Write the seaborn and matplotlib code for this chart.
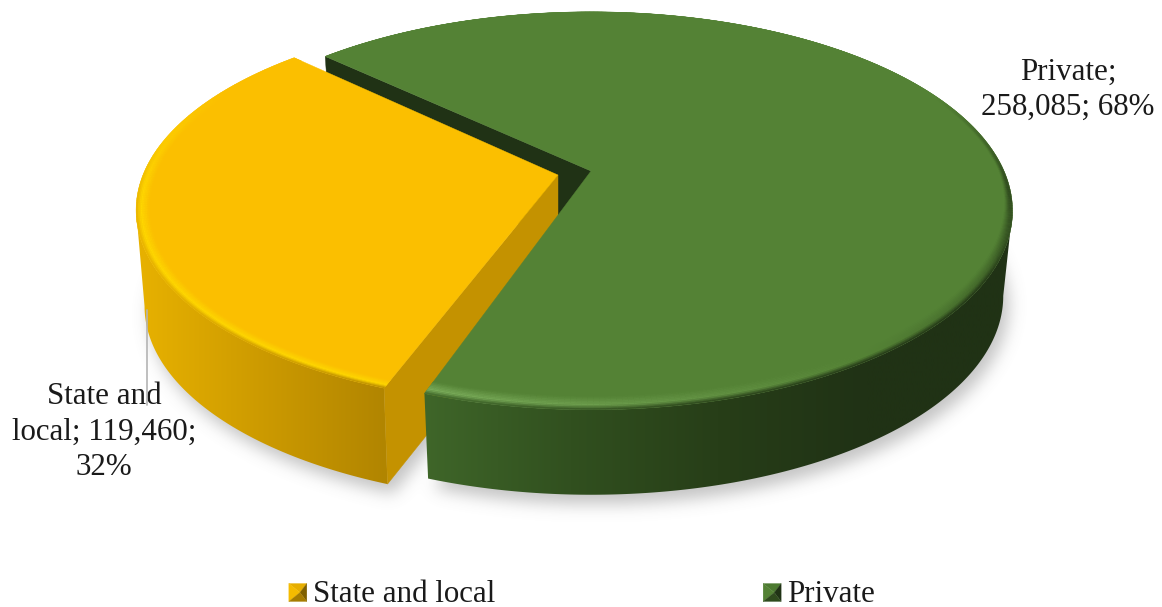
import numpy as np
import matplotlib
matplotlib.use("Agg")
import matplotlib.pyplot as plt
import seaborn as sns
from matplotlib.collections import PolyCollection
from matplotlib.colors import to_rgb
from matplotlib.legend_handler import HandlerBase
from matplotlib.patches import Polygon, Rectangle
from matplotlib.path import Path

# Employment by sector
categories = ["State and local", "Private"]
values = [119460, 258085]
top_colors = ["#FBBF00", "#548235"]
cut_colors = ["#C49200", "#203215"]
wall_ramps = [["#E8B200", "#CC9A00", "#B08400"],
              ["#3F6629", "#31501F", "#273E18", "#203215", "#203215"]]
rim_colors = ["#FFD800", "#7CAE5C"]

sns.set_theme(style="white")
plt.rcParams["font.family"] = ["Liberation Serif", "DejaVu Serif"]
FONT = 22.3
INK = "#1a1a1a"

W, H = 1162, 607
fig = plt.figure(figsize=(W / 100, H / 100), dpi=100)
ax = fig.add_axes([0, 0, 1, 1])

shares = np.array(values) / sum(values)
START = 137.0


class Slice:
    """One exploded pie slice, seen in perspective."""

    def __init__(self, apex, a, b, k, depth, shrink, t0, t1):
        self.apex, self.a, self.b, self.k = apex, a, b, k
        self.depth, self.shrink, self.t0, self.t1 = depth, shrink, t0, t1

    def top(self, theta, r=1.0):
        th = np.radians(theta)
        X, Y = r * np.cos(th), r * np.sin(th)
        w = 1 + self.k * Y
        return self.apex[0] + self.a * X / w, self.apex[1] - self.b * Y / w

    def bottom(self, theta, r=1.0):
        x, y = self.top(theta, r)
        return self.apex[0] + (x - self.apex[0]) * self.shrink, y + self.depth

    def side_angle(self):
        # Angle below the horizontal at which the rim is widest on screen
        return np.degrees(np.arcsin(self.k))


sweep0 = 360 * shares[0]
state = Slice((558, 175), 415, 189, 0.18, 96, 0.98, START - 1.3, START - 1.3 + sweep0)
private = Slice((591, 171), 413, 191, 0.20, 85, 0.978, START + sweep0, START + 360)


def blurred_shadow(paths, dx, dy, sigma, strength):
    """Soft grey drop shadow built from the outline of the lower rims."""
    gx, gy = np.meshgrid(np.arange(W), np.arange(H))
    pts = np.column_stack([gx.ravel(), gy.ravel()])
    mask = np.zeros(W * H, dtype=float)
    for p in paths:
        mask = np.maximum(mask, p.contains_points(pts - [dx, dy]).astype(float))
    mask = mask.reshape(H, W)
    half = int(3 * sigma)
    kern = np.exp(-0.5 * (np.arange(-half, half + 1) / sigma) ** 2)
    kern /= kern.sum()
    mask = np.apply_along_axis(lambda v: np.convolve(v, kern, "same"), 0, mask)
    mask = np.apply_along_axis(lambda v: np.convolve(v, kern, "same"), 1, mask)
    rgba = np.zeros((H, W, 4))
    rgba[..., :3] = 0.45
    rgba[..., 3] = mask * strength
    ax.imshow(rgba, extent=(0, W, H, 0), aspect="auto", zorder=0)


def sector_path(s):
    ang = np.linspace(s.t0, s.t1, 200)
    bx, by = s.bottom(ang)
    ax_, ay_ = s.bottom(np.array([s.t0]), 0.0)
    return Path(np.column_stack([np.r_[ax_, bx], np.r_[ay_, by]]))


def gradient_wall(s, ramp, x0, x1, t0, t1, z):
    """Outer wall of a slice with a left-to-right shade."""
    ang = np.linspace(t0, t1, 200)
    tx, ty = s.top(ang)
    bx, by = s.bottom(ang)
    outline = np.column_stack([np.r_[tx, bx[::-1]], np.r_[ty, by[::-1]]])
    patch = Polygon(outline, closed=True, transform=ax.transData, fc="none", ec="none")
    ax.add_patch(patch)
    grad = np.array(sns.blend_palette(ramp, 256))[None, :, :]
    img = ax.imshow(grad, extent=(x0, x1, H, 0), aspect="auto", zorder=z, interpolation="bilinear")
    img.set_clip_path(patch)


def cut_face(s, theta, color, z):
    ax0, ay0 = s.top(np.array([theta]), 0.0)
    tx, ty = s.top(np.array([theta]))
    bx, by = s.bottom(np.array([theta]))
    cx, cy = s.bottom(np.array([theta]), 0.0)
    ax.add_patch(Polygon([(ax0[0], ay0[0]), (tx[0], ty[0]), (bx[0], by[0]), (cx[0], cy[0])],
                         closed=True, fc=color, ec=color, lw=0.3, zorder=z))


def top_face(s, color, z):
    ang = np.linspace(s.t0, s.t1, 400)
    x, y = s.top(ang)
    ax.add_patch(Polygon(np.column_stack([np.r_[s.apex[0], x], np.r_[s.apex[1], y]]),
                         closed=True, fc=color, ec=color, lw=0.3, zorder=z))


def bevel(s, base, ramp, x0, x1, strength, band, z, steps=9):
    """Rounded rim: a band that lifts towards a highlight, then rolls into the wall."""
    angs = np.linspace(s.t0, s.t1, int((s.t1 - s.t0) * 1.5))
    base = np.array(to_rgb(base))
    pal = np.array(sns.blend_palette(ramp, 256))
    polys, cols = [], []
    for i in range(len(angs) - 1):
        a0, a1 = angs[i], angs[i + 1]
        mid = 0.5 * (a0 + a1)
        rs = np.linspace(1 - band(mid), 1.0, steps + 1)
        hl = strength(mid)
        xm, _ = s.top(np.array([mid]))
        idx = int(np.clip((xm[0] - x0) / (x1 - x0) * 255, 0, 255))
        edge = pal[idx]
        front = max(0.0, -np.sin(np.radians(mid) + 0.2))
        for j in range(steps):
            u = (j + 0.5) / steps
            if u < 0.65:
                c = base + (hl - base) * (u / 0.65)
            else:
                c = hl + (edge - hl) * ((u - 0.65) / 0.35) * min(1.0, front * 3)
            x00, y00 = s.top(np.array([a0, a1]), rs[j])
            x11, y11 = s.top(np.array([a1, a0]), rs[j + 1])
            polys.append(np.column_stack([np.r_[x00, x11], np.r_[y00, y11]]))
            cols.append(c)
    ax.add_collection(PolyCollection(polys, facecolors=cols, edgecolors=cols, linewidths=0.2, zorder=z))


def state_rim(theta):
    base, hi = np.array(to_rgb(top_colors[0])), np.array(to_rgb(rim_colors[0]))
    t = np.clip((theta - 150) / 35, 0, 1)
    return base + (hi - base) * t


def private_rim(theta):
    base = np.array(to_rgb(top_colors[1]))
    hi = np.array(to_rgb(rim_colors[1]))
    dark = np.array(to_rgb(cut_colors[1]))
    th = (theta - state.t1) % 360
    if th < 55:
        return hi + (base - hi) * (th / 55)
    if th < 105:
        return base + (dark - base) * ((th - 55) / 50) * 0.7
    if th < 135:
        return base + (dark - base) * 0.7 * (1 - (th - 105) / 30)
    return base


def state_band(theta):
    return 0.032


def private_band(theta):
    return 0.012 + 0.034 * max(0.0, -np.sin(np.radians(theta)))


blurred_shadow([sector_path(state), sector_path(private)], 5, 9, 8, 0.42)

# Back-facing cut of the larger slice sits behind everything else
cut_face(private, START, cut_colors[1], 1)

# State and local slice
gradient_wall(state, wall_ramps[0], 135, 392, 180 + state.side_angle(), state.t1, 2)
cut_face(state, state.t1, cut_colors[0], 3)
top_face(state, top_colors[0], 4)
bevel(state, top_colors[0], wall_ramps[0], 135, 392, state_rim, state_band, 5)

# Private slice
gradient_wall(private, wall_ramps[1], 423, 1013, private.t0, 360 - private.side_angle(), 6)
top_face(private, top_colors[1], 7)
bevel(private, top_colors[1], wall_ramps[1], 423, 1013, private_rim, private_band, 8)


def data_label(i):
    return f"{values[i]:,}; {shares[i] * 100:.0f}%"


ax.text(1068, 90, f"{categories[1]};\n{data_label(1)}", ha="center", va="center",
        fontsize=FONT, color=INK, linespacing=1.3, zorder=10)
ax.text(104, 432, f"State and\nlocal; {values[0]:,};\n{shares[0] * 100:.0f}%", ha="center", va="center",
        fontsize=FONT, color=INK, linespacing=1.3, zorder=10)
ax.plot([147, 147], [310, 405], color="#B4B4B4", lw=1.2, zorder=11)


class PyramidHandler(HandlerBase):
    """Legend key shaped like a small bevelled square."""

    def __init__(self, shades):
        super().__init__()
        self.shades = shades

    def create_artists(self, legend, orig, xd, yd, width, height, fontsize, trans):
        x0, y0 = -xd, -yd
        s = 18.0 * 0.72
        x1, y1 = x0 + s, y0 + s
        cx, cy = x0 + s * 0.62, y0 + s * 0.5
        tris = [[(x0, y1), (x1, y1), (cx, cy)], [(x0, y0), (x0, y1), (cx, cy)],
                [(x1, y0), (x1, y1), (cx, cy)], [(x0, y0), (x1, y0), (cx, cy)]]
        return [Polygon(t, closed=True, fc=c, ec=c, lw=0.2, transform=trans)
                for t, c in zip(tris, self.shades)]


key_shades = [["#E6AE00", "#F5BB00", "#7F6000", "#A67C00"],
              ["#4C7A30", "#548235", "#203215", "#2F4A1D"]]
handles = [Rectangle((0, 0), 1, 1, label=c) for c in categories]
leg = ax.legend(handles=handles, loc="center", bbox_to_anchor=(582, 594),
                bbox_transform=ax.transData, ncol=2, frameon=False, fontsize=FONT,
                handlelength=0.6, handletextpad=0.18, columnspacing=8.65,
                labelcolor=INK, borderpad=0, borderaxespad=0,
                handler_map={handles[0]: PyramidHandler(key_shades[0]),
                             handles[1]: PyramidHandler(key_shades[1])})

ax.set_xlim(0, W)
ax.set_ylim(H, 0)
ax.set_axis_off()
fig.savefig("out.png", dpi=100, facecolor="white")
